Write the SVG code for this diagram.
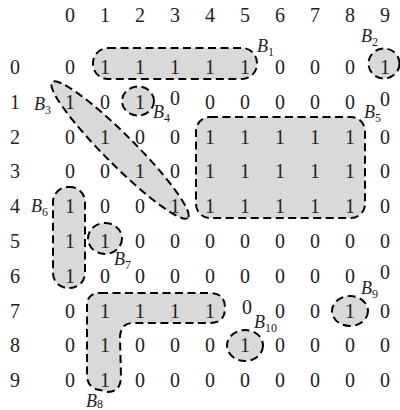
<svg xmlns="http://www.w3.org/2000/svg" width="400" height="410" viewBox="0 0 400 410">
<style>
.blob{fill:#d9d9d9;stroke:#000;stroke-width:2;stroke-dasharray:8,4.5}
.t{font-family:'Liberation Serif','DejaVu Serif',serif;font-size:20px;fill:#222;text-anchor:middle}
.b{font-family:'Liberation Serif','DejaVu Serif',serif;font-size:18px;font-style:italic;fill:#222}
.s{font-family:'Liberation Serif','DejaVu Serif',serif;font-size:12px;font-style:normal;fill:#222}
</style>
<rect width="400" height="410" fill="#fff"/>
<g id="blobs">
<g id="B1"><rect class="blob" x="93" y="48" width="164" height="31" rx="15"/></g>
<g id="B2"><ellipse class="blob" cx="384" cy="63.5" rx="15.5" ry="15"/></g>
<g id="B3"><ellipse class="blob" cx="120" cy="150" rx="96" ry="15" transform="rotate(45 120 150)"/></g>
<g id="B4"><ellipse class="blob" cx="138" cy="101" rx="16" ry="14.5"/></g>
<g id="B5"><rect class="blob" x="196" y="117" width="169" height="101" rx="14"/></g>
<g id="B6"><rect class="blob" x="53" y="187" width="32" height="101" rx="15"/></g>
<g id="B7"><ellipse class="blob" cx="105" cy="238.5" rx="17" ry="15.5"/></g>
<g id="B8"><path class="blob" d="M100,293 L210,293 Q225,293 225,308 Q225,323 210,323 L133,323 Q120,323 120,338 L121,378 Q120,392 108,392 L100,390 Q87,388 87,375 L87,306 Q87,293 100,293 Z"/></g>
<g id="B9"><ellipse class="blob" cx="350" cy="311" rx="18" ry="15"/></g>
<g id="B10"><ellipse class="blob" cx="245" cy="345.5" rx="18" ry="15.5"/></g>
</g>
<g id="headers" class="t">
<text x="70" y="22">0</text><text x="105" y="22">1</text><text x="140" y="22">2</text><text x="175" y="22">3</text><text x="210" y="22">4</text><text x="245" y="22">5</text><text x="280" y="22">6</text><text x="315" y="22">7</text><text x="350" y="22">8</text><text x="385" y="22">9</text>
<text x="15" y="74">0</text><text x="15" y="109">1</text><text x="15" y="144">2</text><text x="15" y="178">3</text><text x="15" y="213">4</text><text x="15" y="248">5</text><text x="15" y="283">6</text><text x="15" y="318">7</text><text x="15" y="352">8</text><text x="15" y="387">9</text>
</g>
<g id="cells" class="t">
<text y="74"><tspan x="70">0</tspan><tspan x="105">1</tspan><tspan x="140">1</tspan><tspan x="175">1</tspan><tspan x="210">1</tspan><tspan x="245">1</tspan><tspan x="280">0</tspan><tspan x="315">0</tspan><tspan x="350">0</tspan><tspan x="385">1</tspan></text>
<text y="109"><tspan x="70">1</tspan><tspan x="105">0</tspan><tspan x="140">1</tspan><tspan x="175" y="105">0</tspan><tspan x="210" y="109">0</tspan><tspan x="245">0</tspan><tspan x="280">0</tspan><tspan x="315">0</tspan><tspan x="350">0</tspan><tspan x="385" y="106">0</tspan></text>
<text y="144"><tspan x="70">0</tspan><tspan x="105">1</tspan><tspan x="140">0</tspan><tspan x="175">0</tspan><tspan x="210">1</tspan><tspan x="245">1</tspan><tspan x="280">1</tspan><tspan x="315">1</tspan><tspan x="350">1</tspan><tspan x="385">0</tspan></text>
<text y="178"><tspan x="70">0</tspan><tspan x="105">0</tspan><tspan x="140">1</tspan><tspan x="175">0</tspan><tspan x="210">1</tspan><tspan x="245">1</tspan><tspan x="280">1</tspan><tspan x="315">1</tspan><tspan x="350">1</tspan><tspan x="385">0</tspan></text>
<text y="213"><tspan x="70">1</tspan><tspan x="105">0</tspan><tspan x="140">0</tspan><tspan x="175">1</tspan><tspan x="210">1</tspan><tspan x="245">1</tspan><tspan x="280">1</tspan><tspan x="315">1</tspan><tspan x="350">1</tspan><tspan x="385">0</tspan></text>
<text y="248"><tspan x="70">1</tspan><tspan x="105">1</tspan><tspan x="140">0</tspan><tspan x="175">0</tspan><tspan x="210">0</tspan><tspan x="245">0</tspan><tspan x="280">0</tspan><tspan x="315">0</tspan><tspan x="350">0</tspan><tspan x="385">0</tspan></text>
<text y="283"><tspan x="70">1</tspan><tspan x="105">0</tspan><tspan x="140">0</tspan><tspan x="175">0</tspan><tspan x="210">0</tspan><tspan x="245">0</tspan><tspan x="280">0</tspan><tspan x="315">0</tspan><tspan x="350">0</tspan><tspan x="385" y="279">0</tspan></text>
<text y="318"><tspan x="70">0</tspan><tspan x="105">1</tspan><tspan x="140">1</tspan><tspan x="175">1</tspan><tspan x="210">1</tspan><tspan x="247" y="314">0</tspan><tspan x="280" y="318">0</tspan><tspan x="315">0</tspan><tspan x="350">1</tspan><tspan x="385">0</tspan></text>
<text y="352"><tspan x="70">0</tspan><tspan x="105">1</tspan><tspan x="140">0</tspan><tspan x="175">0</tspan><tspan x="210">0</tspan><tspan x="245">1</tspan><tspan x="280">0</tspan><tspan x="315">0</tspan><tspan x="350">0</tspan><tspan x="385">0</tspan></text>
<text y="387"><tspan x="70">0</tspan><tspan x="105">1</tspan><tspan x="140">0</tspan><tspan x="175">0</tspan><tspan x="210">0</tspan><tspan x="245">0</tspan><tspan x="280">0</tspan><tspan x="315">0</tspan><tspan x="350">0</tspan><tspan x="385">0</tspan></text>
</g>
<g id="labels">
<text class="b" x="257" y="52">B<tspan class="s" dy="4">1</tspan></text>
<text class="b" x="361" y="42">B<tspan class="s" dy="4">2</tspan></text>
<text class="b" x="34" y="110">B<tspan class="s" dy="4">3</tspan></text>
<text class="b" x="153" y="118">B<tspan class="s" dy="4">4</tspan></text>
<text class="b" x="364" y="118">B<tspan class="s" dy="4">5</tspan></text>
<text class="b" x="31" y="212">B<tspan class="s" dy="4">6</tspan></text>
<text class="b" x="114" y="265">B<tspan class="s" dy="4">7</tspan></text>
<text class="b" x="86" y="407">B<tspan class="s" dy="1">8</tspan></text>
<text class="b" x="361" y="294">B<tspan class="s" dy="4">9</tspan></text>
<text class="b" x="254" y="328">B<tspan class="s" dy="4">10</tspan></text>
</g>
</svg>
